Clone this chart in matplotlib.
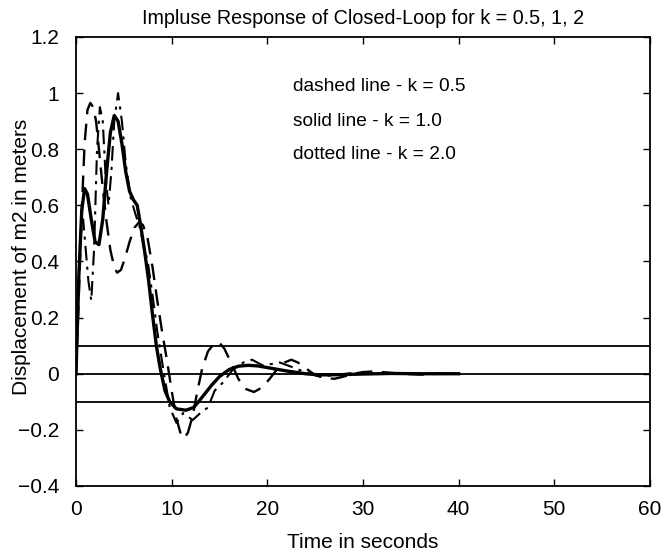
import matplotlib
matplotlib.use("Agg")
import matplotlib.pyplot as plt

plt.rcParams["font.family"] = ["Liberation Sans", "DejaVu Sans"]

# k = 0.5 (dashed)
t_k05 = [0, 0.3, 0.6, 0.9, 1.2, 1.5, 1.8, 2.1, 2.4, 2.8, 3.2, 3.6, 4.0, 4.3, 4.7, 5.1,
         5.6, 6.1, 6.6, 7.0, 7.5, 8.0, 8.5, 9.0, 9.5, 10.0, 10.5, 11.0, 11.3, 11.7, 12.2,
         12.7, 13.2, 13.8, 14.5, 15.0, 15.5, 16.2, 17.0, 17.8, 18.6, 19.4, 20.2, 21.0,
         21.8, 22.5, 23.2, 24.0, 25.0, 26.0, 27.0, 28.0, 29.0, 30.0, 31.0, 32.0, 34.0,
         36.0, 38.0, 40.0]
y_k05 = [0, 0.28, 0.58, 0.82, 0.94, 0.965, 0.95, 0.9, 0.8, 0.66, 0.54, 0.44, 0.38, 0.36,
         0.37, 0.41, 0.47, 0.52, 0.54, 0.53, 0.48, 0.38, 0.26, 0.15, 0.05, -0.06, -0.16,
         -0.22, -0.23, -0.21, -0.15, -0.06, 0.02, 0.08, 0.11, 0.11, 0.09, 0.04, -0.02,
         -0.055, -0.065, -0.05, -0.02, 0.015, 0.04, 0.05, 0.04, 0.02, -0.005, -0.015,
         -0.018, -0.01, 0.0, 0.006, 0.008, 0.006, 0.0, -0.003, 0.0, 0.0]

# k = 1.0 (solid)
t_k10 = [0, 0.3, 0.6, 0.9, 1.2, 1.6, 2.0, 2.4, 2.8, 3.2, 3.6, 4.0, 4.4, 4.8, 5.2, 5.6,
         6.0, 6.4, 6.8, 7.2, 7.6, 8.0, 8.4, 8.8, 9.3, 9.8, 10.5, 11.5, 12.3, 12.8, 13.5,
         14.2, 15.0, 16.0, 17.0, 18.0, 19.0, 20.0, 21.0, 22.0, 23.0, 24.0, 25.0, 26.0,
         28.0, 30.0, 33.0, 36.0, 40.0]
y_k10 = [0, 0.35, 0.58, 0.66, 0.64, 0.55, 0.47, 0.46, 0.55, 0.72, 0.86, 0.92, 0.9, 0.82,
         0.72, 0.65, 0.62, 0.6, 0.52, 0.43, 0.33, 0.21, 0.1, 0.02, -0.06, -0.1, -0.125,
         -0.13, -0.12, -0.1, -0.07, -0.04, -0.01, 0.015, 0.027, 0.03, 0.028, 0.022,
         0.016, 0.01, 0.005, 0.0, -0.003, -0.004, -0.003, -0.001, 0.001, 0.0, 0.0]

# k = 2.0 (dotted)
t_k20 = [0, 0.25, 0.5, 0.75, 1.0, 1.3, 1.6, 1.9, 2.2, 2.5, 2.8, 3.1, 3.4, 3.7, 4.0, 4.4,
         4.8, 5.2, 5.7, 6.2, 6.6, 7.0, 7.5, 8.0, 8.5, 9.2, 9.8, 10.5, 11.2, 12.2, 13.0,
         13.8, 14.5, 15.4, 16.5, 17.5, 18.4, 19.5, 20.5, 21.3, 22.5, 24.0, 25.5, 27.0,
         29.0, 31.0, 34.0, 37.0, 40.0]
y_k20 = [0, 0.3, 0.5, 0.55, 0.45, 0.33, 0.26, 0.45, 0.8, 0.95, 0.9, 0.7, 0.6, 0.72, 0.9,
         1.0, 0.9, 0.75, 0.63, 0.57, 0.53, 0.47, 0.4, 0.28, 0.15, 0.0, -0.12, -0.175,
         -0.14, -0.165, -0.14, -0.12, -0.06, -0.03, 0.02, 0.04, 0.05, 0.03, 0.035, 0.04,
         0.025, 0.005, -0.01, -0.005, 0.003, 0.0, 0.002, 0.0, 0.0]

ref_levels = [0.1, 0.0, -0.1]
xticks = [0, 10, 20, 30, 40, 50, 60]
yticks = [-0.4, -0.2, 0, 0.2, 0.4, 0.6, 0.8, 1.0, 1.2]
ytick_labels = ["\u22120.4", "\u22120.2", "0", "0.2", "0.4", "0.6", "0.8", "1", "1.2"]
notes = ["dashed line - k = 0.5", "solid line - k = 1.0", "dotted line - k = 2.0"]
note_y = [1.025, 0.90, 0.78]

fig = plt.figure(figsize=(6.63, 5.56), dpi=100)
ax = fig.add_axes([0.1146, 0.1259, 0.8658, 0.8076])

for lvl in ref_levels:
    ax.axhline(lvl, color="black", linewidth=1.3, zorder=2)

ax.plot(t_k05, y_k05, color="black", linewidth=1.7, linestyle=(0, (7, 4)), zorder=3)
ax.plot(t_k10, y_k10, color="black", linewidth=2.4, linestyle="-", zorder=4)
ax.plot(t_k20, y_k20, color="black", linewidth=1.5, linestyle=(0, (7, 3, 1.5, 3)), zorder=3)

for txt, yy in zip(notes, note_y):
    ax.text(22.7, yy, txt, ha="left", va="center", fontsize=13.8)

ax.set_xlim(0, 60)
ax.set_ylim(-0.4, 1.2)
ax.set_xticks(xticks)
ax.set_yticks(yticks)
ax.set_yticklabels(ytick_labels)
ax.tick_params(direction="in", length=5, width=1, top=True, right=True, labelsize=15)
ax.tick_params(axis="y", pad=12)
ax.tick_params(axis="x", pad=10)
for sp in ax.spines.values():
    sp.set_linewidth(1.3)

ax.set_title("Impluse Response of Closed-Loop for k = 0.5, 1, 2", fontsize=14.2, pad=9)
ax.set_xlabel("Time in seconds", fontsize=15, labelpad=10)
ax.set_ylabel("Displacement of m2 in meters", fontsize=15)
ax.yaxis.set_label_coords(-0.078, 0.51)

fig.savefig("out.png", dpi=100, facecolor="white")
